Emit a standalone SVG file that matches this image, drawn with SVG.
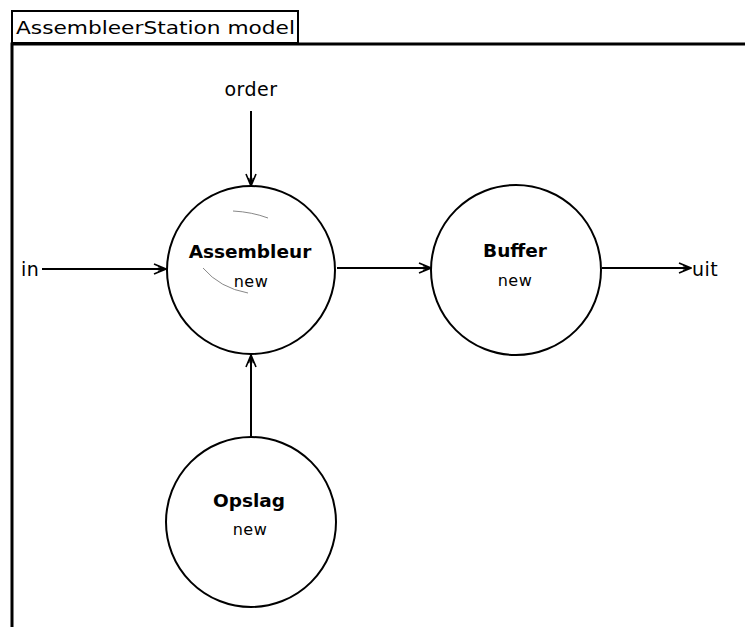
<svg xmlns="http://www.w3.org/2000/svg" width="745" height="627" viewBox="0 0 745 627">
  <style>
    .frame { fill: none; stroke: #000; stroke-width: 3; }
    .node circle { fill: #fff; stroke: #000; stroke-width: 2; }
    .name { font-family: "DejaVu Sans", "Liberation Sans", sans-serif; font-weight: bold; font-size: 18.5px; text-anchor: middle; fill: #000; }
    .sub { font-family: "DejaVu Sans", "Liberation Sans", sans-serif; font-size: 16px; text-anchor: middle; fill: #000; letter-spacing: 0.5px; }
    .port { font-family: "DejaVu Sans", "Liberation Sans", sans-serif; font-size: 19px; fill: #000; letter-spacing: 0.5px; }
    .edge { stroke: #000; stroke-width: 2; fill: none; marker-end: url(#head); }
    .ghost { stroke: #888; stroke-width: 1; fill: none; }
  </style>
  <defs>
    <marker id="head" viewBox="0 0 14 12" refX="13" refY="6" markerWidth="14" markerHeight="12" markerUnits="userSpaceOnUse" orient="auto">
      <path d="M1,1 L13,6 L1,11 M5,3.5 L13,6 L5,8.5" fill="none" stroke="#000" stroke-width="1.6"/>
    </marker>
  </defs>
  <rect width="745" height="627" fill="#fff"/>

  <!-- model frame with title tab -->
  <g id="frame">
    <rect x="12" y="11" width="286" height="32" fill="#fff" stroke="#000" stroke-width="2"/>
    <polyline class="frame" points="12,627 12,44 745,44"/>
    <text x="16" y="34" font-family="DejaVu Sans, Liberation Sans, sans-serif" font-size="17" textLength="279" lengthAdjust="spacingAndGlyphs">AssembleerStation model</text>
  </g>

  <!-- connectors -->
  <g id="connectors">
    <line class="edge" x1="251" y1="111" x2="251" y2="186"/>
    <line class="edge" x1="42" y1="269" x2="166" y2="269"/>
    <line class="edge" x1="337" y1="268" x2="431" y2="268"/>
    <line class="edge" x1="602" y1="268" x2="691" y2="268"/>
    <line class="edge" x1="251" y1="437" x2="251" y2="355"/>
    <text class="port" x="251" y="96" text-anchor="middle">order</text>
    <text class="port" x="21" y="276">in</text>
    <text class="port" x="692" y="276">uit</text>
  </g>

  <g id="assembleur" class="node">
    <circle cx="251" cy="270" r="84"/>
    <path class="ghost" d="M233,211 Q252,212 268,218"/>
    <path class="ghost" d="M203,268 Q220,288 248,293"/>
    <text class="name" x="250" y="258">Assembleur</text>
    <text class="sub" x="251" y="287">new</text>
  </g>

  <g id="buffer" class="node">
    <circle cx="516" cy="270" r="85"/>
    <text class="name" x="515" y="257">Buffer</text>
    <text class="sub" x="515" y="286">new</text>
  </g>

  <g id="opslag" class="node">
    <circle cx="251" cy="522" r="85"/>
    <text class="name" x="249" y="507">Opslag</text>
    <text class="sub" x="250" y="535">new</text>
  </g>
</svg>
